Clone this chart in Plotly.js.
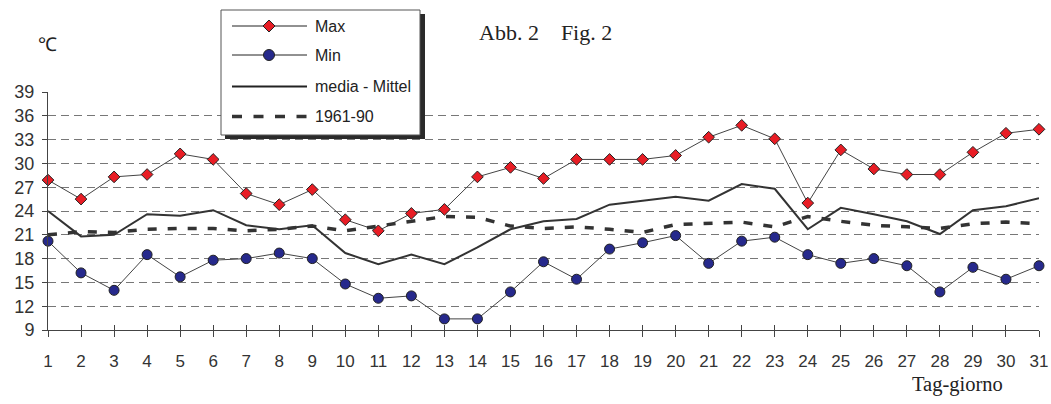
<!DOCTYPE html>
<html>
<head>
<meta charset="utf-8">
<script src="https://cdn.plot.ly/plotly-3.0.1.min.js"></script>
<style>html,body{margin:0;padding:0;background:#fff;}#chart{width:1051px;height:404px;}</style>
</head>
<body>
<div id="chart"></div>
<script>
// ---- data ----
const days = Array.from({length: 31}, (_, i) => i + 1);
const tMax = [27.9,25.5,28.3,28.6,31.2,30.5,26.2,24.8,26.7,22.9,21.5,23.7,24.2,28.3,29.5,28.1,30.5,30.5,30.5,31.0,33.3,34.8,33.1,25.0,31.7,29.3,28.6,28.6,31.4,33.8,34.3];
const tMin = [20.2,16.2,14.0,18.5,15.7,17.8,18.0,18.7,18.0,14.8,13.0,13.3,10.4,10.4,13.8,17.6,15.4,19.2,20.0,20.9,17.4,20.2,20.7,18.5,17.4,18.0,17.1,13.8,16.9,15.4,17.1];
const tMean = [24.0,20.8,21.0,23.6,23.4,24.1,22.2,21.7,22.2,18.7,17.3,18.5,17.3,19.4,21.7,22.7,23.0,24.8,25.3,25.8,25.3,27.4,26.8,21.7,24.4,23.6,22.7,21.1,24.1,24.6,25.6];
const tNorm = [21.0,21.4,21.3,21.7,21.8,21.8,21.5,21.7,22.1,21.5,22.1,22.7,23.3,23.2,22.1,21.8,22.0,21.7,21.3,22.3,22.4,22.6,22.0,23.3,22.7,22.2,22.0,21.8,22.4,22.6,22.4];
const yTicks = [9,12,15,18,21,24,27,30,33,36,39];
const seriesNames = ['Max', 'Min', 'media - Mittel', '1961-90'];
const titleText = 'Abb. 2&nbsp;&nbsp;&nbsp;&nbsp;Fig. 2';
const unitText = '\u2103';
const xTitleText = 'Tag-giorno';

// ---- layout geometry ----
const W = 1051, H = 404;
const M = {l: 48, r: 12, t: 92, b: 74};
const PW = W - M.l - M.r, PH = H - M.t - M.b;
const px = X => (X - M.l) / PW;
const py = Y => (H - M.b - Y) / PH;

const red = '#e81d25', navy = '#26298c', dark = '#333333';
const sans = 'Liberation Sans, Arial, sans-serif';
const serif = 'Liberation Serif, DejaVu Serif, serif';

const traces = [
  {x: days, y: tNorm, name: seriesNames[3], xaxis: 'x2', yaxis: 'y', mode: 'lines', line: {color: dark, width: 3.5, dash: '9px,11px'}, cliponaxis: false, showlegend: false},
  {x: days, y: tMean, name: seriesNames[2], mode: 'lines', line: {color: dark, width: 2}, cliponaxis: false, showlegend: false},
  {x: days, y: tMax, name: seriesNames[0], mode: 'lines+markers', line: {color: '#444', width: 1},
   marker: {symbol: 'diamond', size: 9, color: red, line: {color: '#222', width: 1}}, cliponaxis: false, showlegend: false},
  {x: days, y: tMin, name: seriesNames[1], mode: 'lines+markers', line: {color: '#444', width: 1},
   marker: {symbol: 'circle', size: 10, color: navy, line: {color: '#222', width: 1}}, cliponaxis: false, showlegend: false}
];

// manual legend (box, shadow, sample lines, glyphs)
const lg = {x0: 221, x1: 420, y0: 10, y1: 135, lineX0: 232, lineX1: 307, markX: 269, textX: 313, rows: [26, 55, 86.5, 116.5]};
const shapes = [
  {type: 'rect', xref: 'paper', yref: 'paper', x0: px(lg.x0 + 4), x1: px(lg.x1 + 5), y0: py(lg.y0 + 4), y1: py(lg.y1 + 4), fillcolor: '#2a2a2a', line: {width: 0}, layer: 'above'},
  {type: 'rect', xref: 'paper', yref: 'paper', x0: px(lg.x0), x1: px(lg.x1), y0: py(lg.y0), y1: py(lg.y1), fillcolor: '#ffffff', line: {color: '#555', width: 1}, layer: 'above'},
  {type: 'line', xref: 'paper', yref: 'paper', x0: px(lg.lineX0), x1: px(lg.lineX1), y0: py(lg.rows[0]), y1: py(lg.rows[0]), line: {color: '#222', width: 1}, layer: 'above'},
  {type: 'line', xref: 'paper', yref: 'paper', x0: px(lg.lineX0), x1: px(lg.lineX1), y0: py(lg.rows[1]), y1: py(lg.rows[1]), line: {color: '#222', width: 1}, layer: 'above'},
  {type: 'line', xref: 'paper', yref: 'paper', x0: px(lg.lineX0), x1: px(lg.lineX1), y0: py(lg.rows[2]), y1: py(lg.rows[2]), line: {color: '#222', width: 2}, layer: 'above'},
  {type: 'line', xref: 'paper', yref: 'paper', x0: px(lg.lineX0), x1: px(lg.lineX1), y0: py(lg.rows[3]), y1: py(lg.rows[3]), line: {color: dark, width: 3.5, dash: '10px,11.5px'}, layer: 'above'},
  {type: 'path', xref: 'paper', yref: 'paper', xsizemode: 'pixel', ysizemode: 'pixel', xanchor: px(lg.markX), yanchor: py(lg.rows[0]),
   path: 'M -6,0 L 0,6 L 6,0 L 0,-6 Z', fillcolor: red, line: {color: '#222', width: 1}, layer: 'above'},
  {type: 'circle', xref: 'paper', yref: 'paper', xsizemode: 'pixel', ysizemode: 'pixel', xanchor: px(lg.markX), yanchor: py(lg.rows[1]),
   x0: -5.5, x1: 5.5, y0: -5.5, y1: 5.5, fillcolor: navy, line: {color: '#222', width: 1}, layer: 'above'}
];

const annotations = seriesNames.map((n, i) => ({
  text: n, xref: 'paper', yref: 'paper', x: px(lg.textX), y: py(lg.rows[i]), xanchor: 'left', yanchor: 'middle',
  showarrow: false, font: {family: sans, size: 16, color: '#222'}
}));
annotations.push(
  {text: titleText, xref: 'paper', yref: 'paper', x: px(477), y: py(32), xanchor: 'left', yanchor: 'middle', showarrow: false, font: {family: serif, size: 22, color: '#222'}},
  {text: unitText, xref: 'paper', yref: 'paper', x: px(47.5), y: py(44), xanchor: 'center', yanchor: 'middle', showarrow: false, font: {family: sans, size: 19, color: '#222'}},
  {text: xTitleText, xref: 'paper', yref: 'paper', x: px(910), y: py(384), xanchor: 'left', yanchor: 'middle', showarrow: false, font: {family: serif, size: 20.5, color: '#222'}}
);

const layout = {
  width: W, height: H, margin: M,
  paper_bgcolor: '#fff', plot_bgcolor: '#fff', showlegend: false,
  font: {family: sans, size: 18, color: '#333'},
  xaxis: {range: [1, 31], tickmode: 'array', tickvals: days, ticktext: days.map(String), showgrid: false, zeroline: false,
          showline: true, linecolor: '#444', linewidth: 1, ticks: 'outside', ticklen: 6, tickcolor: '#444', ticklabelstandoff: 10,
          tickfont: {family: sans, size: 17, color: '#333'}},
  xaxis2: {range: [1, 31], overlaying: 'x', anchor: 'y', side: 'bottom', tickmode: 'array', tickvals: days, showticklabels: false, showgrid: false,
           zeroline: false, showline: false, ticks: 'inside', ticklen: 5, tickcolor: '#444'},
  yaxis: {range: [9, 39], tickmode: 'array', tickvals: yTicks, ticktext: yTicks.map(String), showgrid: true, gridcolor: '#777', griddash: '8px,5px', gridwidth: 1,
          zeroline: false, showline: true, linecolor: '#444', linewidth: 1, ticks: 'outside', ticklen: 5, tickcolor: '#444', ticklabelstandoff: 4,
          tickfont: {family: sans, size: 18, color: '#333'}},
  shapes: shapes, annotations: annotations
};

Plotly.newPlot('chart', traces, layout, {staticPlot: true, displayModeBar: false});
</script>
</body>
</html>
